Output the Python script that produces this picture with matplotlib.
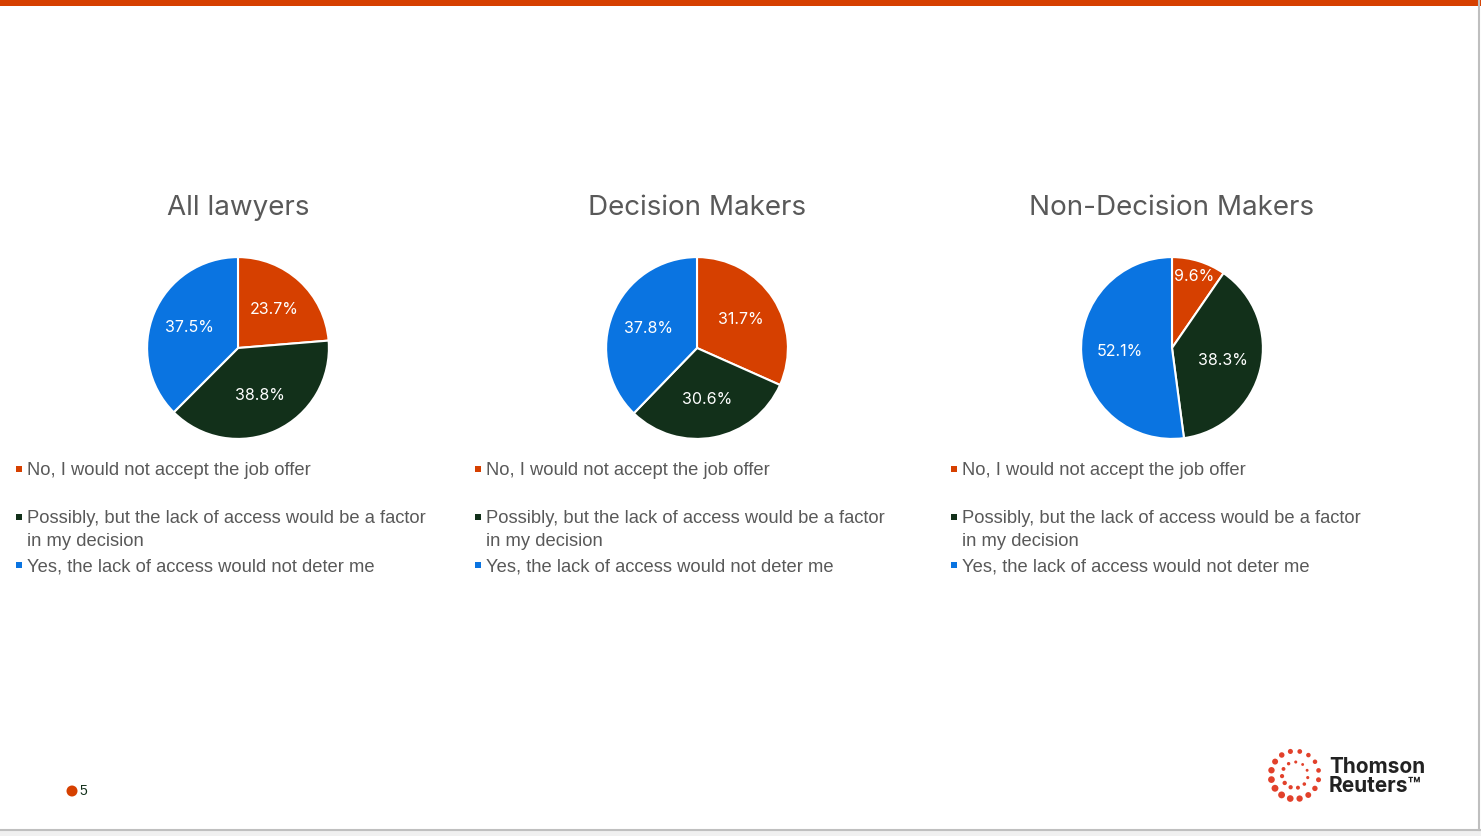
import matplotlib
matplotlib.use("Agg")
import matplotlib.pyplot as plt
from matplotlib.patches import Rectangle, Ellipse
import numpy as np

# ---------------- data ----------------
panel_titles = ["All lawyers", "Decision Makers", "Non-Decision Makers"]
categories = [
    "No, I would not accept the job offer",
    "Possibly, but the lack of access would be a factor\nin my decision",
    "Yes, the lack of access would not deter me",
]
all_lawyers = [23.7, 38.8, 37.5]
decision_makers = [31.7, 30.6, 37.8]
non_decision_makers = [9.6, 38.3, 52.1]
series = [all_lawyers, decision_makers, non_decision_makers]
page_number = "5"

colors = ["#D64000", "#12301A", "#0A74E1"]
text_gray = "#595959"

W, H = 1481, 836
fig = plt.figure(figsize=(W / 100, H / 100), dpi=100)
fig.patch.set_facecolor("white")

def fx(px):
    return px / W

def fy(py):
    return 1 - py / H

def dot(px, py, r, color):
    fig.patches.append(Ellipse((fx(px), fy(py)), 2 * r / W, 2 * r / H,
                               transform=fig.transFigure, facecolor=color,
                               edgecolor="none"))

# top orange bar
fig.patches.append(Rectangle((0, fy(6)), 1, 6 / H, transform=fig.transFigure,
                             facecolor="#D64000", edgecolor="none", zorder=0))
# bottom strip and right border
fig.patches.append(Rectangle((0, 0), 1, fy(830), transform=fig.transFigure,
                             facecolor="#F0F0F0", edgecolor="none", zorder=0))
fig.lines.append(plt.Line2D([0, 1], [fy(830), fy(830)], transform=fig.transFigure,
                            color="#BFBFBF", lw=1.5))
fig.lines.append(plt.Line2D([fx(1479), fx(1479)], [fy(830), 1], transform=fig.transFigure,
                            color="#BFBFBF", lw=1.5))

centers_x = [238, 697, 1172]
legend_x = [17, 476, 952]
center_y = 348
box = 200  # px

for i, (vals, title) in enumerate(zip(series, panel_titles)):
    cx = centers_x[i]
    ax = fig.add_axes([fx(cx - box / 2), fy(center_y + box / 2), box / W, box / H])
    wedges, texts, autotexts = ax.pie(
        vals, colors=colors, startangle=90, counterclock=False,
        autopct=lambda p: f"{p:.1f}%", pctdistance=0.58,
        wedgeprops=dict(edgecolor="white", linewidth=1.5),
        textprops=dict(color="white", fontsize=11.5, family=["Inter", "DejaVu Sans"]),
    )
    for t, v in zip(autotexts, vals):
        t.set_text(f"{v:.1f}%")
    for w, t, v in zip(wedges, autotexts, vals):
        if v < 15:
            ang = np.deg2rad((w.theta1 + w.theta2) / 2)
            t.set_position((0.82 * np.cos(ang), 0.82 * np.sin(ang)))
    ax.set_xlim(-1.1, 1.1)
    ax.set_ylim(-1.1, 1.1)
    ax.set_aspect("equal")
    ax.axis("off")

    fig.text(fx(cx), fy(208), title, ha="center", va="center", fontsize=20,
             color=text_gray, family=["Inter", "DejaVu Sans"])

    # legend
    lx = legend_x[i]
    rows_y = [469, 517, 565]
    for c, lab, ry in zip(colors, categories, rows_y):
        fig.patches.append(Rectangle((fx(lx - 1), fy(ry + 3)), 6 / W, 6 / H,
                                     transform=fig.transFigure, facecolor=c,
                                     edgecolor="none"))
        fig.text(fx(lx + 10), fy(ry - 7), lab, ha="left", va="top", fontsize=13.2,
                 color=text_gray, family=["Liberation Sans", "DejaVu Sans"],
                 linespacing=1.45)

# page number
dot(72, 791, 5.5, "#D64000")
fig.text(fx(79), fy(791), page_number, ha="left", va="center", fontsize=10,
         color="#12301A", family=["Liberation Sans", "DejaVu Sans"])

# Thomson Reuters logo (dot rings)
lcx, lcy = 1295, 775
for r, n, s in [(24, 16, 3.0), (13, 11, 1.9)]:
    for k in range(n):
        a = 2 * np.pi * k / n + 0.2
        size = s * (0.75 + 0.4 * (0.5 + 0.5 * np.cos(a - 2.4)))
        dot(lcx + r * np.cos(a), lcy + r * np.sin(a), size, "#E2412B")
fig.text(fx(1329), fy(767), "Thomson", ha="left", va="center", fontsize=15,
         fontweight="bold", color="#222222", family=["Inter", "DejaVu Sans"])
fig.text(fx(1329), fy(786), "Reuters\u2122", ha="left", va="center", fontsize=15,
         fontweight="bold", color="#222222", family=["Inter", "DejaVu Sans"])

fig.savefig("out.png", dpi=100, facecolor="white")
